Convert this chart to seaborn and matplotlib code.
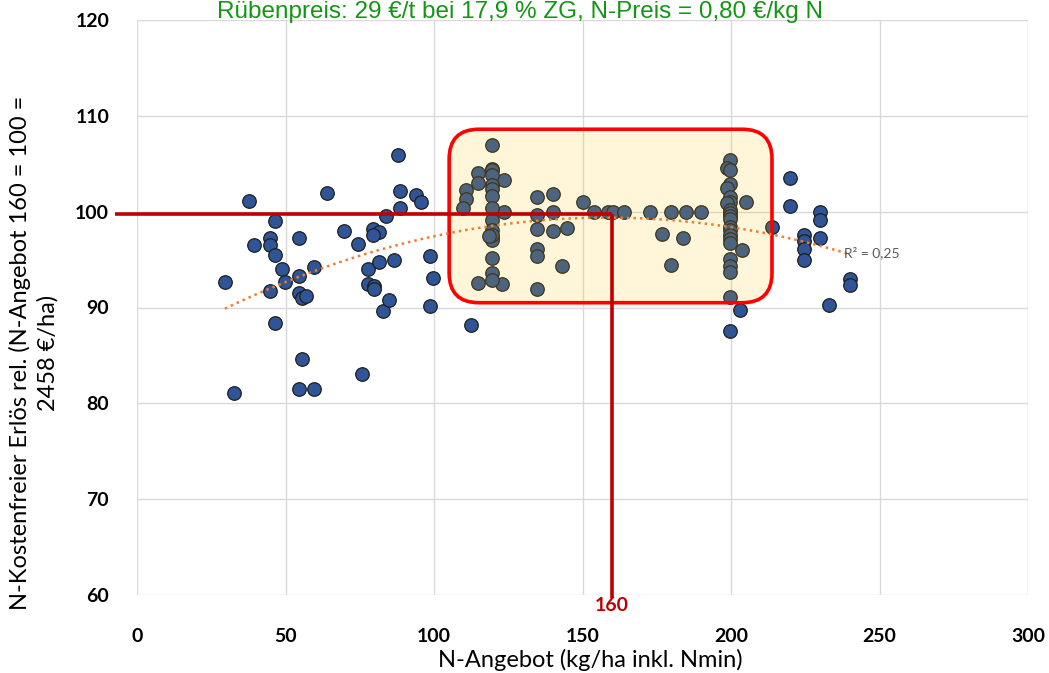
import matplotlib
matplotlib.use("Agg")
import matplotlib.pyplot as plt
import seaborn as sns
import numpy as np
from matplotlib.patches import FancyBboxPatch

# ---- data ----
n_angebot = [
    29.6, 32.6, 37.7, 39.5, 46.5, 44.8, 44.8, 46.5, 48.7, 44.8, 49.8, 46.5,
    54.7, 54.7, 54.7, 55.7, 56.9, 59.7, 55.7, 54.7, 59.7, 63.9, 69.8, 74.5,
    75.6, 77.9, 77.9, 79.9, 79.9, 79.6, 81.6, 79.6, 81.6, 82.7, 84.8, 83.8,
    86.6, 88.0, 88.6, 88.6, 93.8, 95.6, 98.7, 99.6, 98.7, 112.5,
    110.8, 110.8, 109.7, 114.9, 114.9, 114.9, 123.0, 123.7, 123.7,
    119.5, 119.5, 119.5, 119.5, 119.5, 119.5, 119.5, 119.5, 119.5, 119.5,
    119.5, 119.5, 119.5, 119.5, 119.5, 119.5, 118.5,
    134.6, 134.6, 134.6, 134.6, 134.6, 134.6, 140.0, 140.0, 140.0,
    144.7, 143.0, 150.0, 153.9, 158.7, 160.2, 163.9, 172.7, 179.8, 184.7,
    189.8, 176.9, 183.9, 179.8,
    199.7, 198.5, 199.7, 199.7, 198.5, 199.7, 199.7, 198.5, 199.7, 199.7,
    199.7, 199.7, 199.7, 199.7, 199.7, 199.7, 199.7, 199.7, 199.7, 199.7,
    199.7, 199.7,
    205.0, 203.8, 203.0, 213.7, 219.9, 219.9, 230.0, 230.0, 230.0, 224.7,
    224.7, 224.7, 224.7, 240.0, 240.0, 233.0,
]
erloes_rel = [
    92.7, 81.1, 101.1, 96.5, 99.0, 97.3, 96.5, 95.5, 94.0, 91.7, 92.7, 88.4,
    97.3, 93.3, 91.5, 91.0, 91.2, 94.2, 84.6, 81.5, 81.5, 101.9, 98.0, 96.6,
    83.1, 94.0, 92.4, 92.2, 91.9, 98.2, 97.9, 97.6, 94.8, 89.6, 90.8, 99.5,
    95.0, 105.9, 102.2, 100.4, 101.7, 101.0, 95.4, 93.1, 90.2, 88.2,
    102.3, 101.3, 100.35, 104.0, 103.0, 92.6, 92.5, 103.3, 100.0,
    107.0, 104.5, 104.3, 103.8, 102.8, 102.4, 101.6, 100.35, 99.1, 98.1,
    97.4, 97.0, 95.2, 93.6, 92.9, 97.6, 97.5,
    101.5, 99.7, 98.2, 96.1, 95.4, 91.9, 101.8, 100.0, 98.0,
    98.3, 94.3, 101.0, 100.0, 100.0, 100.0, 100.0, 100.0, 100.0, 100.0,
    100.0, 97.7, 97.3, 94.4,
    105.4, 104.6, 104.3, 102.9, 102.5, 101.5, 101.0, 100.9, 100.2, 99.9,
    99.5, 99.2, 98.4, 98.1, 97.6, 97.1, 96.7, 95.1, 94.3, 93.7,
    91.1, 87.5,
    101.0, 96.0, 89.7, 98.4, 103.5, 100.6, 100.0, 99.1, 97.3, 97.6,
    96.9, 96.1, 95.0, 93.0, 92.3, 90.3,
]
x_ticks = [0, 50, 100, 150, 200, 250, 300]
y_ticks = [60, 70, 80, 90, 100, 110, 120]
ref_n = 160
ref_rel = 99.8
highlight_x = (105.1, 213.8)
highlight_y = (90.5, 108.6)

title = "Rübenpreis: 29 €/t bei 17,9 % ZG, N-Preis = 0,80 €/kg N"
xlabel = "N-Angebot (kg/ha inkl. Nmin)"
ylabel = "N-Kostenfreier Erlös rel. (N-Angebot 160 = 100 =\n2458 €/ha)"
r2_text = "R² = 0,25"

# ---- figure ----
sns.set_theme(style="white")
plt.rcParams['font.family'] = ['Lato', 'DejaVu Sans']

fig = plt.figure(figsize=(10.49, 6.73), dpi=100)
ax = fig.add_axes([137/1049, 1-595/673, (1028-137)/1049, (595-20)/673])

sns.scatterplot(x=n_angebot, y=erloes_rel, ax=ax, s=95, color="#2f5597",
                edgecolor="#1e1e1e", linewidth=0.9, zorder=3)

# highlight box (semi-transparent overlay)
w = highlight_x[1] - highlight_x[0]
h = highlight_y[1] - highlight_y[0]
box = FancyBboxPatch((highlight_x[0], highlight_y[0]), w, h,
                     boxstyle="round,pad=0,rounding_size=10",
                     mutation_aspect=0.31,
                     facecolor=(1.0, 0.753, 0.0, 0.15),
                     edgecolor="#ff0000", linewidth=2.6, zorder=4)
ax.add_patch(box)

# polynomial trend line (order 2)
sns.regplot(x=n_angebot, y=erloes_rel, order=2, ci=None, scatter=False, ax=ax,
            line_kws=dict(color="#ed7d31", linewidth=1.8, linestyle=(0, (1, 1.6)),
                          zorder=5))
ax.text(238, 95.7, r2_text, fontsize=10, color="#595959", ha="left", va="center",
        zorder=6)

# reference lines
ax.plot([-7.4, ref_n], [ref_rel, ref_rel], color="#c00000", linewidth=2.6,
        clip_on=False, zorder=6, solid_capstyle="butt")
ax.plot([ref_n, ref_n], [ref_rel, 59.7], color="#c00000", linewidth=2.6,
        clip_on=False, zorder=6, solid_capstyle="butt")
ax.text(ref_n, 58.95, str(ref_n), color="#c00000", fontsize=14, fontweight="bold",
        ha="center", va="center", zorder=7, clip_on=False)

ax.set_xlim(0, 300)
ax.set_ylim(60, 120)
ax.set_xticks(x_ticks)
ax.set_yticks(y_ticks)
ax.tick_params(axis="both", length=0, labelsize=14, labelcolor="black")
ax.tick_params(axis="x", pad=24)
ax.tick_params(axis="y", pad=20)
for lab in ax.get_xticklabels() + ax.get_yticklabels():
    lab.set_fontweight("bold")
ax.grid(True, color="#d9d9d9", linewidth=1.0)
ax.set_axisbelow(True)
for s in ax.spines.values():
    s.set_visible(False)
ax.set_xlabel("")
ax.set_ylabel("")

fig.text(590/1049, 1-660/673, xlabel, fontsize=17, ha="center", va="center",
         color="black")
fig.text(34/1049, 1-353/673, ylabel, fontsize=17, ha="center", va="center",
         rotation=90, multialignment="center", color="black", linespacing=1.35)
fig.text(520/1049, 1-18/673, title, fontsize=17.5, color="#149614", ha="center",
         va="baseline", family=["Liberation Sans", "DejaVu Sans"])

fig.savefig("out.png", dpi=100)
